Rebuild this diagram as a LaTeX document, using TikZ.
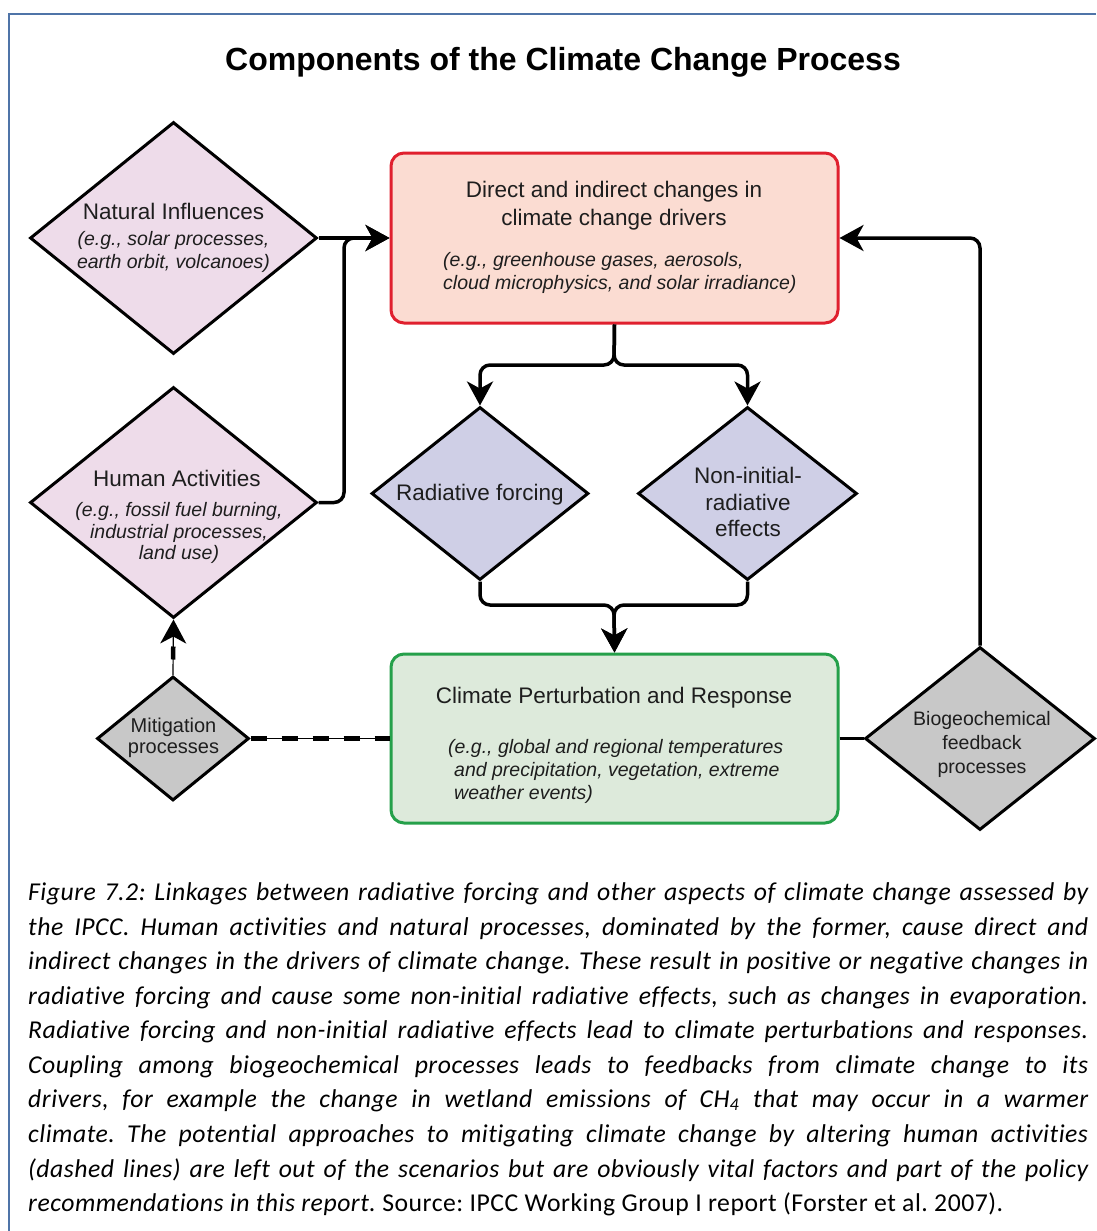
\documentclass[tikz,border=0pt]{standalone}
\usepackage{fontspec}
\setmainfont{Liberation Sans}
\newfontfamily\capfont[LetterSpace=2,Ligatures=NoCommon]{Carlito}
\usetikzlibrary{shapes.geometric,arrows.meta}
\definecolor{framec}{HTML}{4F74A8}
\definecolor{pinkf}{HTML}{EEDCEA}
\definecolor{lavf}{HTML}{CFCFE6}
\definecolor{greyf}{HTML}{C8C8C8}
\definecolor{redf}{HTML}{FBDCD2}
\definecolor{redd}{HTML}{E0202E}
\definecolor{greenf}{HTML}{DDEADB}
\definecolor{greend}{HTML}{25A04A}
\definecolor{txt}{HTML}{1E1E1E}
\frenchspacing
\begin{document}
\begin{tikzpicture}[x=1pt,y=-1pt,
  dia/.style={diamond, draw=black, line width=3pt, inner sep=0pt, line join=miter},
  boxn/.style={rectangle, rounded corners=13pt, line width=3pt, inner sep=0pt},
  tip/.style={-{Stealth[length=24pt,width=26pt,inset=7pt]}},
  wire/.style={line width=3.5pt, rounded corners=10pt},
  conn/.style={wire, tip},
  head/.style={font=\fontsize{22.5}{28}\selectfont, text=txt, align=center, inner sep=0pt},
  eg/.style={font=\fontsize{19.5}{23}\selectfont\itshape, text=txt, inner sep=0pt},
  capl/.style={font=\capfont\fontsize{25.7}{28}\selectfont\itshape, anchor=base west, inner sep=0pt},
]
\useasboundingbox (0,0) rectangle (1096,1231);
\fill[white] (0,0) rectangle (1096,1231);
\draw[framec, line width=2pt] (1096,14) -- (9,14) -- (9,1231);

\node[font=\bfseries\fontsize{32}{38}\selectfont, inner sep=0pt] (title) at (563,62) {Components of the Climate Change Process};

% boxes
\node[boxn, draw=redd, fill=redf, minimum width=447pt, minimum height=170pt] (drv) at (614.5,238) {};
\node[boxn, draw=greend, fill=greenf, minimum width=447pt, minimum height=169pt] (resp) at (614.5,738.5) {};

% diamonds
\node[dia, fill=pinkf, minimum width=287pt, minimum height=232pt] (nat) at (173.5,238) {};
\node[dia, fill=pinkf, minimum width=287pt, minimum height=231pt] (hum) at (173.5,502.5) {};
\node[dia, fill=greyf, minimum width=152pt, minimum height=124pt] (mit) at (173,738.5) {};
\node[dia, fill=lavf, minimum width=217pt, minimum height=173pt] (rf) at (480,493.5) {};
\node[dia, fill=lavf, minimum width=219pt, minimum height=173pt] (nr) at (747.5,493.5) {};
\node[dia, fill=greyf, minimum width=230pt, minimum height=183pt] (bg) at (980,738.5) {};

% texts
\node[head] (natT) at (173.5,211) {Natural Influences};
\node[eg, align=center] (natE) at (173.5,252) {(e.g., solar processes,\\earth orbit, volcanoes)};
\node[head] (humT) at (177,478) {Human Activities};
\node[eg, align=center, font=\fontsize{19.5}{21.5}\selectfont\itshape] (humE) at (179,533) {(e.g., fossil fuel burning,\\industrial processes,\\land use)};
\node[head] (drvT) at (614,206) {Direct and indirect changes in\\climate change drivers};
\node[eg, align=left, anchor=west, font=\fontsize{19.5}{22.5}\selectfont\itshape] (drvE) at (443,273) {(e.g., greenhouse gases, aerosols,\\cloud microphysics, and solar irradiance)};
\node[head] (rfT) at (480,495) {Radiative forcing};
\node[head, font=\fontsize{22.5}{26.5}\selectfont] (nrT) at (748,502) {Non-initial-\\radiative\\effects};
\node[head] (respT) at (614,698) {Climate Perturbation and Response};
\node[eg, align=left, anchor=west] (respE) at (448,771) {(e.g., global and regional temperatures\\\hspace*{6pt}and precipitation, vegetation, extreme\\\hspace*{6pt}weather events)};
\node[head, font=\fontsize{20}{21.5}\selectfont] (mitT) at (173.5,738) {Mitigation\\processes};
\node[head, font=\fontsize{19.5}{24}\selectfont] (bgT) at (982,744) {Biogeochemical\\feedback\\processes};

% connectors
\coordinate (j1) at (614,365);
\coordinate (j2) at (614,605);
\coordinate (j3) at (344,238);
\draw[conn] (drv.south) -- (j1) -| (rf.north);
\draw[conn] (drv.south) -- (j1) -| (nr.north);
\draw[conn] (rf.south) |- (j2) -- (resp.north);
\draw[conn] (nr.south) |- (j2) -- (resp.north);
\draw[conn] (nat.east) -- (drv.west);
\draw[conn] (hum.east) -| (j3) -- (drv.west);
\draw[conn] (bg.north) |- (drv.east);
\draw[wire] (resp.east) -- (bg.west);
% dashed mitigation links
\draw[line width=1.2pt] (mit.east) -- (resp.west);
\draw[line width=4.5pt, dash pattern=on 16pt off 15pt] (mit.east) -- (resp.west);
\draw[line width=1.2pt, tip] (mit.north) -- (hum.south);
\draw[line width=4.5pt, dash pattern=on 13pt off 46pt, dash phase=32pt] (hum.south) -- (mit.north);

% caption
\node[capl] (c1) at (28,900) {\makebox[1060pt][s]{Figure 7.2: Linkages between radiative forcing and other aspects of climate change assessed by}};
\node[capl] (c2) at (28,935) {\makebox[1060pt][s]{the IPCC. Human activities and natural processes, dominated by the former, cause direct and}};
\node[capl] (c3) at (28,969) {\makebox[1060pt][s]{indirect changes in the drivers of climate change. These result in positive or negative changes in}};
\node[capl] (c4) at (28,1004) {\makebox[1060pt][s]{radiative forcing and cause some non-initial radiative effects, such as changes in evaporation.}};
\node[capl] (c5) at (28,1038) {\makebox[1060pt][s]{Radiative forcing and non-initial radiative effects lead to climate perturbations and responses.}};
\node[capl] (c6) at (28,1073) {\makebox[1060pt][s]{Coupling among biogeochemical processes leads to feedbacks from climate change to its}};
\node[capl] (c7) at (28,1107) {\makebox[1060pt][s]{drivers, for example the change in wetland emissions of CH\textsubscript{4} that may occur in a warmer}};
\node[capl] (c8) at (28,1142) {\makebox[1060pt][s]{climate. The potential approaches to mitigating climate change by altering human activities}};
\node[capl] (c9) at (28,1177) {\makebox[1060pt][s]{(dashed lines) are left out of the scenarios but are obviously vital factors and part of the policy}};
\node[capl] (c10) at (28,1211) {recommendations in this report. {\upshape Source: IPCC Working Group I report (Forster et al. 2007).}};
\end{tikzpicture}
\end{document}
